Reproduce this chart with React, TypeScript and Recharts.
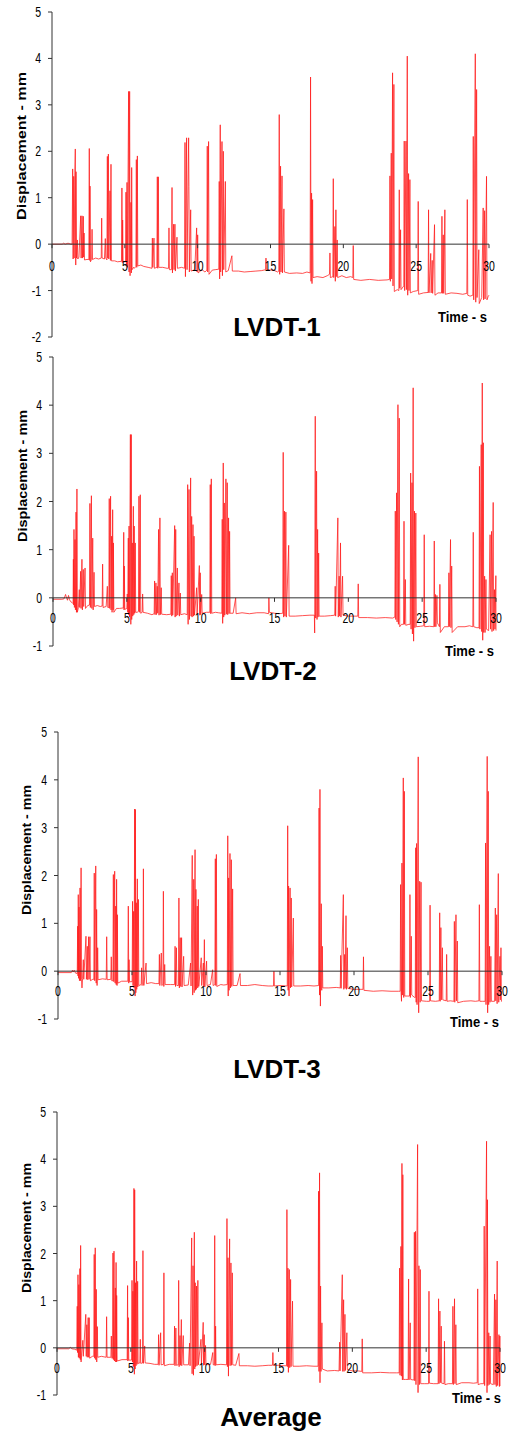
import { LineChart, Line, XAxis, YAxis, ReferenceLine, ReferenceDot } from 'recharts';

type Pt = [number, number];

const xTicks = [0, 5, 10, 15, 20, 25, 30];
const yTicksLvdt1 = [-2, -1, 0, 1, 2, 3, 4, 5];
const yTicks = [-1, 0, 1, 2, 3, 4, 5];
const titles = ['LVDT-1', 'LVDT-2', 'LVDT-3', 'Average'];
const yTitle = 'Displacement - mm';
const xTitle = 'Time - s';

// time (s), displacement (mm)
const lvdt1: Pt[] = [
  [0, 0], [0.7, 0.0], [0.8, 0.02], [0.9, 0.0], [1.1, 0.02], [1.3, 0.0], [1.38, 0.0],
  [1.42, 1.62], [1.45, -0.32], [1.49, 1.46], [1.52, -0.3], [1.57, 1.55], [1.6, 2.05], [1.63, -0.45], [1.65, 1.56], [1.68, -0.3],
  [1.74, 0.09], [1.77, -0.32], [1.85, -0.28], [1.97, 0.61], [2.0, -0.3], [2.06, 0.61], [2.09, -0.3], [2.15, 0.6], [2.17, -0.28],
  [2.2, 0.24], [2.23, -0.34], [2.4, -0.33], [2.53, -0.33], [2.56, 2.06], [2.59, -0.35], [2.61, 1.25], [2.64, -0.38], [2.72, -0.33],
  [2.75, 0.32], [2.78, -0.33], [3.0, -0.3], [3.2, -0.32], [3.38, -0.3], [3.41, 0.56], [3.44, -0.3], [3.6, -0.32], [3.66, 0.12],
  [3.69, -0.3], [3.77, -0.34], [3.8, 1.89], [3.83, -0.3], [3.87, 1.94], [3.9, -0.32], [3.98, 1.15], [4.01, -0.35], [4.05, 1.72],
  [4.08, -0.36], [4.3, -0.36], [4.5, -0.38], [4.77, -0.37], [4.8, 1.21], [4.83, -0.4], [4.85, 0.52], [4.88, -0.38], [5.05, -0.38],
  [5.08, 1.12], [5.11, -0.45], [5.15, 1.33], [5.18, -0.5], [5.26, 3.29], [5.29, -0.6], [5.33, 3.29], [5.36, -0.68], [5.42, 0.9],
  [5.45, -0.62], [5.47, 1.65], [5.5, -0.55], [5.6, -0.5], [5.65, -0.52], [5.76, -0.48], [5.79, 1.82], [5.82, -0.5], [5.86, 1.9],
  [5.89, -0.47], [6.1, -0.45], [6.3, -0.48], [6.6, -0.5], [6.86, -0.52], [6.89, 0.13], [6.92, -0.5], [7.0, 0.13], [7.03, -0.52],
  [7.2, -0.5], [7.23, 1.45], [7.26, -0.52], [7.3, 1.45], [7.33, -0.5], [7.6, -0.5], [7.9, -0.52], [8.0, -0.52], [8.03, 0.35],
  [8.06, -0.55], [8.2, -0.55], [8.24, 1.22], [8.27, -0.62], [8.35, 0.43], [8.38, -0.55], [8.44, 0.43], [8.47, -0.58], [8.58, 0.15],
  [8.61, -0.52], [8.9, -0.5], [9.1, -0.52], [9.13, 2.19], [9.16, -0.7], [9.24, 2.29], [9.27, -0.55], [9.38, 2.29], [9.4, 1.24],
  [9.43, -0.6], [9.52, 0.74], [9.55, -0.58], [9.8, -0.55], [9.93, 0.35], [9.96, -0.6], [10.0, 0.2], [10.03, -0.62], [10.3, -0.55],
  [10.5, -0.6], [10.63, -0.56], [10.66, 2.11], [10.69, -0.6], [10.75, 2.21], [10.78, -0.65], [11.0, -0.56], [11.2, -0.55],
  [11.45, -0.54], [11.48, 1.35], [11.51, -0.75], [11.55, 2.57], [11.58, -0.6], [11.67, 2.21], [11.7, -0.68], [11.76, 2.0],
  [11.79, -0.55], [11.9, 1.35], [11.93, -0.6], [12.1, -0.57], [12.35, -0.25], [12.38, -0.58], [12.8, -0.58], [13.2, -0.6],
  [13.6, -0.59], [14.0, -0.58], [14.4, -0.57], [14.66, -0.55], [14.69, -0.3], [14.72, -0.55], [15.2, -0.56], [15.5, -0.6],
  [15.57, -0.58], [15.6, 2.79], [15.63, -0.65], [15.69, 1.68], [15.72, -0.6], [15.79, 1.47], [15.82, -0.62], [15.92, 0.76],
  [15.95, -0.6], [16.3, -0.63], [16.8, -0.62], [17.2, -0.63], [17.5, -0.6], [17.72, -0.62], [17.75, 3.6], [17.78, -0.8],
  [17.82, 1.1], [17.85, -0.85], [17.89, 0.96], [17.92, -0.72], [18.2, -0.7], [18.6, -0.72], [18.9, -0.68], [19.05, -0.65],
  [19.08, -0.19], [19.11, -0.72], [19.28, -0.7], [19.31, 1.41], [19.34, -0.72], [19.42, 0.38], [19.45, -0.8], [19.49, 0.74],
  [19.52, -0.7], [19.58, 0.09], [19.61, -0.72], [19.9, -0.68], [20.2, -0.72], [20.5, -0.7], [20.65, -0.72], [20.68, -0.03],
  [20.71, -0.76], [21.2, -0.78], [21.8, -0.76], [22.4, -0.78], [23.0, -0.77], [23.17, -0.76], [23.2, 1.47], [23.23, -0.8],
  [23.29, 1.96], [23.32, -0.75], [23.38, 3.69], [23.41, -0.9], [23.47, 3.44], [23.5, -1.02], [23.7, -0.98], [23.81, -1.0],
  [23.84, 1.17], [23.87, -0.95], [23.93, 0.31], [23.96, -0.98], [24.15, -0.9], [24.18, 2.22], [24.21, -1.0], [24.3, 2.22],
  [24.33, -0.98], [24.39, 4.05], [24.42, -1.1], [24.48, 1.52], [24.51, -1.0], [24.57, 1.39], [24.6, -1.05], [24.8, -1.02],
  [25.11, -1.0], [25.14, 0.92], [25.17, -1.08], [25.5, -1.05], [25.82, -1.04], [25.85, 0.74], [25.88, -1.05], [26.0, -0.2],
  [26.03, -1.05], [26.1, -0.35], [26.13, -1.06], [26.26, 0.42], [26.29, -1.1], [26.5, -1.05], [26.74, -1.05], [26.77, 0.6],
  [26.8, -1.06], [26.86, 0.2], [26.89, -1.06], [26.97, 0.74], [27.0, -1.08], [27.4, -1.05], [27.8, -1.06], [28.2, -1.08],
  [28.48, -1.06], [28.51, 0.96], [28.54, -1.1], [28.7, -1.12], [28.89, -1.1], [28.92, 2.32], [28.95, -1.2], [29.06, 4.1],
  [29.09, -1.25], [29.15, 3.33], [29.18, -1.15], [29.3, -0.12], [29.33, -1.28], [29.5, -1.15], [29.6, 0.78], [29.63, -1.2],
  [29.7, 0.72], [29.73, -1.18], [29.83, 1.46], [29.86, -1.2], [29.95, -1.12], [30.0, -1.1],
];

const lvdt2: Pt[] = [
  [0, -0.03], [0.6, -0.03], [0.75, -0.02], [0.85, 0.07], [0.9, 0.02], [0.98, -0.05], [1.05, 0.05], [1.12, -0.04], [1.2, -0.08],
  [1.3, -0.1], [1.36, -0.12], [1.38, 0.8], [1.4, -0.15], [1.42, 1.42], [1.45, -0.2], [1.49, 1.21], [1.52, -0.25], [1.56, 1.78],
  [1.59, -0.3], [1.62, 2.26], [1.65, -0.3], [1.72, -0.2], [1.78, 0.17], [1.81, -0.2], [1.87, 0.55], [1.9, -0.22], [1.96, 0.8],
  [1.99, -0.25], [2.05, 0.59], [2.08, -0.18], [2.17, 0.62], [2.2, -0.22], [2.35, -0.16], [2.47, -0.15], [2.5, 1.96], [2.53, -0.2],
  [2.6, 2.12], [2.63, -0.22], [2.69, 1.24], [2.72, -0.25], [2.78, 0.53], [2.81, -0.18], [3.0, -0.16], [3.2, -0.18], [3.33, -0.17],
  [3.36, 0.7], [3.39, -0.2], [3.6, -0.18], [3.68, 0.24], [3.71, -0.2], [3.78, -0.2], [3.81, 2.06], [3.84, -0.22], [3.9, 2.11],
  [3.93, -0.25], [3.97, 1.28], [4.0, -0.3], [4.04, 1.83], [4.07, -0.25], [4.09, 1.14], [4.12, -0.3], [4.3, -0.22], [4.5, -0.22],
  [4.76, -0.21], [4.79, 1.36], [4.81, -0.25], [4.83, 0.66], [4.86, -0.24], [5.0, -0.22], [5.03, 0.08], [5.06, -0.3], [5.1, 1.24],
  [5.12, -0.35], [5.15, 1.49], [5.18, -0.4], [5.24, 3.39], [5.27, -0.55], [5.3, 3.39], [5.33, -0.45], [5.37, 1.14], [5.4, -0.38],
  [5.44, 1.9], [5.47, -0.35], [5.5, 1.49], [5.53, -0.32], [5.57, 1.14], [5.6, -0.3], [5.7, -0.3], [5.79, -0.28], [5.82, 2.11],
  [5.85, -0.3], [5.91, 2.14], [5.94, -0.32], [6.04, -0.3], [6.07, 0.08], [6.1, -0.3], [6.4, -0.32], [6.7, -0.35], [6.85, -0.33],
  [6.88, 0.35], [6.91, -0.35], [6.97, 0.31], [7.0, -0.35], [7.06, 0.24], [7.09, -0.32], [7.15, 1.42], [7.18, -0.36], [7.24, 1.66],
  [7.27, -0.35], [7.33, 0.21], [7.36, -0.34], [7.7, -0.35], [7.98, -0.34], [8.01, 0.46], [8.04, -0.38], [8.08, 0.52], [8.11, -0.36],
  [8.24, 1.5], [8.27, -0.4], [8.31, 1.42], [8.34, -0.38], [8.42, 0.62], [8.45, -0.36], [8.53, 0.31], [8.56, -0.38], [8.62, 0.1],
  [8.65, -0.35], [8.9, -0.33], [9.09, -0.35], [9.12, 2.35], [9.15, -0.55], [9.21, 2.25], [9.24, -0.45], [9.32, 2.49], [9.35, -0.38],
  [9.39, 1.69], [9.42, -0.4], [9.48, 1.52], [9.51, -0.38], [9.55, 1.28], [9.58, -0.36], [9.73, 0.21], [9.76, -0.34], [9.91, 0.67],
  [9.94, -0.36], [9.97, 0.52], [10.0, -0.35], [10.07, 0.07], [10.1, -0.32], [10.4, -0.3], [10.62, -0.3], [10.65, 2.35], [10.68, -0.33],
  [10.72, 2.47], [10.75, -0.32], [11.0, -0.3], [11.2, -0.31], [11.43, -0.32], [11.46, 1.63], [11.49, -0.53], [11.53, 2.8],
  [11.56, -0.4], [11.6, 1.97], [11.63, -0.36], [11.71, 2.47], [11.74, -0.34], [11.8, 2.39], [11.83, -0.35], [11.89, 1.66],
  [11.92, -0.33], [11.96, 1.38], [11.99, -0.32], [12.2, -0.32], [12.37, 0.0], [12.4, -0.33], [12.8, -0.31], [13.3, -0.33],
  [13.8, -0.31], [14.3, -0.31], [14.6, -0.33], [14.62, 0.0], [14.65, -0.3], [15.0, -0.32], [15.3, -0.33], [15.56, -0.32],
  [15.59, 3.02], [15.62, -0.4], [15.68, 1.8], [15.71, -0.38], [15.77, 1.78], [15.8, -0.4], [15.96, 1.09], [15.99, -0.38],
  [16.4, -0.38], [16.9, -0.37], [17.4, -0.36], [17.7, -0.36], [17.72, -0.73], [17.76, 3.77], [17.79, -0.42], [17.85, 2.63],
  [17.88, -0.45], [17.92, 1.42], [17.95, -0.4], [17.99, 0.93], [18.02, -0.38], [18.4, -0.38], [18.8, -0.37], [19.08, -0.36],
  [19.11, 0.24], [19.14, -0.38], [19.29, 1.66], [19.32, -0.4], [19.38, 0.45], [19.41, -0.38], [19.47, 1.14], [19.5, -0.4],
  [19.61, 0.45], [19.64, -0.36], [20.0, -0.38], [20.4, -0.38], [20.64, -0.38], [20.67, 0.29], [20.7, -0.41], [21.3, -0.41],
  [21.9, -0.42], [22.5, -0.41], [23.0, -0.42], [23.15, -0.4], [23.18, 1.8], [23.21, -0.45], [23.27, 2.18], [23.3, -0.5],
  [23.36, 4.01], [23.39, -0.55], [23.45, 3.73], [23.48, -0.6], [23.6, -0.55], [23.74, -0.55], [23.77, 1.59], [23.8, -0.55],
  [23.86, 0.38], [23.89, -0.57], [24.1, -0.55], [24.19, -0.55], [24.22, 2.59], [24.25, -0.65], [24.31, 2.39], [24.34, -0.75],
  [24.39, 4.36], [24.42, -0.9], [24.48, 1.8], [24.51, -0.62], [24.57, 1.76], [24.6, -0.6], [24.9, -0.59], [25.11, -0.58],
  [25.14, 1.31], [25.17, -0.6], [25.5, -0.59], [25.79, -0.6], [25.82, 1.18], [25.85, -0.6], [25.9, 0.07], [25.93, -0.6],
  [26.0, 0.05], [26.03, -0.52], [26.17, -0.6], [26.2, 0.28], [26.23, -0.72], [26.5, -0.6], [26.78, -0.6], [26.81, 0.52],
  [26.84, -0.6], [26.92, 1.21], [26.95, -0.62], [27.0, 0.66], [27.03, -0.72], [27.4, -0.6], [27.9, -0.6], [28.2, -0.58],
  [28.43, -0.6], [28.46, 1.36], [28.49, -0.6], [28.7, -0.62], [28.85, -0.62], [28.88, 2.73], [28.91, -0.65], [29.0, 3.18],
  [29.03, -0.7], [29.07, 4.46], [29.1, -0.88], [29.14, 3.22], [29.17, -0.72], [29.23, 0.45], [29.26, -0.72], [29.32, 0.38],
  [29.35, -0.65], [29.5, -0.68], [29.6, 1.31], [29.63, -0.65], [29.7, 1.38], [29.73, -0.7], [29.81, 1.98], [29.84, -0.68],
  [29.9, 0.17], [29.93, -0.65], [29.99, 0.46], [30.0, -0.68],
];

const lvdt3: Pt[] = [
  [0, -0.03], [0.9, -0.03], [0.98, 0.02], [1.02, -0.02], [1.1, 0.02], [1.18, -0.04], [1.3, -0.05], [1.33, 0.94], [1.35, -0.1],
  [1.37, 1.6], [1.39, -0.15], [1.42, 1.34], [1.45, -0.2], [1.49, 1.74], [1.52, -0.2], [1.56, 2.16], [1.59, -0.17], [1.62, -0.35],
  [1.66, -0.15], [1.71, 0.24], [1.74, -0.17], [1.89, 0.73], [1.92, -0.17], [1.98, 0.52], [2.01, -0.18], [2.07, 0.72], [2.1, -0.17],
  [2.16, 0.72], [2.19, -0.2], [2.35, -0.17], [2.42, -0.17], [2.45, 2.05], [2.48, -0.2], [2.55, 2.2], [2.58, -0.25], [2.61, 1.29],
  [2.64, -0.3], [2.68, 0.49], [2.71, -0.18], [3.0, -0.16], [3.26, -0.17], [3.29, 0.72], [3.32, -0.18], [3.57, -0.17], [3.6, 0.3],
  [3.63, -0.2], [3.71, -0.2], [3.74, 2.02], [3.77, -0.22], [3.83, 2.09], [3.86, -0.25], [3.9, 1.36], [3.93, -0.28], [3.96, 1.92],
  [3.99, -0.3], [4.01, 1.18], [4.04, -0.25], [4.3, -0.21], [4.72, -0.21], [4.75, 1.36], [4.78, -0.25], [4.8, 0.24], [4.83, -0.22],
  [5.01, -0.22], [5.04, 1.46], [5.07, -0.3], [5.11, 1.25], [5.14, -0.35], [5.18, 3.39], [5.21, -0.52], [5.23, 3.38], [5.26, -0.45],
  [5.29, 1.43], [5.32, -0.38], [5.36, 1.93], [5.39, -0.33], [5.43, 1.5], [5.46, -0.3], [5.62, -0.28], [5.65, 0.07], [5.68, -0.3],
  [5.74, -0.28], [5.77, 2.14], [5.8, -0.3], [5.95, 0.17], [5.98, -0.26], [6.3, -0.24], [6.6, -0.26], [6.82, -0.26], [6.85, 0.35],
  [6.88, -0.3], [6.98, 0.38], [7.01, -0.3], [7.09, -0.28], [7.12, 1.67], [7.15, -0.32], [7.21, 0.14], [7.24, -0.28], [7.6, -0.28],
  [7.88, -0.28], [7.91, 0.52], [7.94, -0.32], [8.0, 0.49], [8.03, -0.3], [8.14, -0.3], [8.17, 1.53], [8.2, -0.35], [8.26, 0.7],
  [8.29, -0.32], [8.35, 0.7], [8.38, -0.33], [8.49, 0.31], [8.52, -0.3], [8.8, -0.29], [8.96, 0.17], [8.99, -0.31], [9.07, 2.42],
  [9.1, -0.5], [9.17, 1.92], [9.2, -0.45], [9.26, 2.54], [9.29, -0.4], [9.32, 1.71], [9.35, -0.38], [9.41, 1.36], [9.44, -0.35],
  [9.48, 1.5], [9.51, -0.32], [9.68, 0.28], [9.71, -0.3], [9.82, 0.17], [9.85, -0.32], [9.89, 0.66], [9.92, -0.33], [10.04, 0.21],
  [10.07, -0.3], [10.3, -0.28], [10.45, 0.03], [10.48, -0.3], [10.6, -0.28], [10.63, 2.35], [10.66, -0.3], [10.7, 2.44],
  [10.73, -0.32], [11.0, -0.28], [11.2, -0.29], [11.44, -0.28], [11.47, 2.83], [11.5, -0.52], [11.53, 1.95], [11.56, -0.4],
  [11.62, 2.46], [11.65, -0.35], [11.71, 2.33], [11.74, -0.32], [11.8, 1.72], [11.83, -0.3], [12.1, -0.3], [12.3, -0.05],
  [12.33, -0.3], [12.8, -0.3], [13.3, -0.28], [13.8, -0.3], [14.2, -0.31], [14.56, -0.31], [14.59, 0.0], [14.62, -0.31],
  [15.0, -0.3], [15.49, -0.31], [15.52, 3.04], [15.55, -0.4], [15.58, 1.78], [15.61, -0.52], [15.68, 1.74], [15.71, -0.35],
  [15.76, 1.53], [15.79, -0.33], [15.9, 1.11], [15.93, -0.31], [16.4, -0.31], [16.9, -0.3], [17.3, -0.31], [17.61, -0.3],
  [17.64, 3.41], [17.67, -0.5], [17.7, 3.8], [17.73, -0.73], [17.79, 1.41], [17.82, -0.4], [17.86, 0.52], [17.89, -0.35],
  [18.3, -0.35], [18.8, -0.34], [19.07, -0.35], [19.1, 0.33], [19.13, -0.36], [19.28, 1.6], [19.31, -0.38], [19.37, 0.35],
  [19.4, -0.36], [19.46, 1.16], [19.49, -0.38], [19.55, 0.49], [19.58, -0.36], [20.0, -0.38], [20.4, -0.38], [20.61, -0.38],
  [20.64, 0.3], [20.67, -0.4], [21.3, -0.42], [21.9, -0.41], [22.5, -0.42], [23.0, -0.42], [23.12, -0.42], [23.15, 1.81],
  [23.18, -0.45], [23.21, -0.63], [23.24, 2.26], [23.27, -0.5], [23.33, 4.04], [23.36, -0.55], [23.4, 3.76], [23.43, -0.52],
  [23.6, -0.52], [23.75, -0.52], [23.78, 1.6], [23.81, -0.55], [23.87, 0.73], [23.9, -0.5], [24.1, -0.55], [24.14, -0.55],
  [24.17, 2.58], [24.2, -0.65], [24.23, 2.67], [24.26, -0.7], [24.34, 4.48], [24.37, -0.87], [24.44, 1.88], [24.47, -0.65],
  [24.53, 1.86], [24.56, -0.62], [24.9, -0.63], [25.11, -0.63], [25.14, 1.38], [25.17, -0.62], [25.5, -0.63], [25.76, -0.62],
  [25.79, 1.22], [25.82, -0.63], [25.87, 0.91], [25.9, -0.6], [25.97, 0.49], [26.0, -0.6], [26.23, -0.62], [26.26, 0.35],
  [26.29, -0.63], [26.5, -0.62], [26.75, -0.63], [26.78, 1.04], [26.81, -0.65], [26.89, 1.18], [26.92, -0.62], [26.98, 0.63],
  [27.01, -0.66], [27.4, -0.63], [27.9, -0.62], [28.2, -0.63], [28.44, -0.62], [28.47, 1.39], [28.5, -0.63], [28.7, -0.63],
  [28.86, -0.63], [28.89, 2.68], [28.92, -0.7], [29.0, 4.49], [29.03, -0.87], [29.07, 3.76], [29.1, -0.7], [29.16, 0.52],
  [29.19, -0.65], [29.25, 0.31], [29.28, -0.63], [29.5, -0.63], [29.55, 1.32], [29.58, -0.62], [29.64, 1.18], [29.67, -0.68],
  [29.75, 2.04], [29.78, -0.65], [29.86, 0.31], [29.89, -0.6], [29.93, 0.49], [29.96, -0.63], [30.0, -0.62],
];

const average: Pt[] = [
  [0, -0.02], [0.8, -0.02], [0.9, 0.01], [1.0, -0.02], [1.2, -0.03], [1.34, -0.05], [1.37, 0.88], [1.39, -0.1], [1.42, 1.55],
  [1.45, -0.2], [1.48, 1.34], [1.51, -0.22], [1.55, 1.68], [1.58, -0.25], [1.6, 2.17], [1.63, -0.3], [1.66, -0.17], [1.75, 0.16],
  [1.78, -0.18], [1.95, 0.71], [1.98, -0.18], [2.02, 0.49], [2.05, -0.2], [2.11, 0.64], [2.14, -0.2], [2.18, 0.64], [2.21, -0.22],
  [2.4, -0.18], [2.49, -0.18], [2.52, 1.98], [2.55, -0.22], [2.59, 2.12], [2.62, -0.25], [2.66, 1.24], [2.69, -0.3], [2.73, 0.45],
  [2.76, -0.2], [3.0, -0.18], [3.33, -0.2], [3.36, 0.66], [3.39, -0.2], [3.65, -0.2], [3.68, 0.25], [3.71, -0.22], [3.76, -0.22],
  [3.79, 2.01], [3.82, -0.25], [3.86, 2.05], [3.89, -0.28], [3.95, 1.27], [3.98, -0.3], [4.0, 1.81], [4.02, -0.3], [4.04, 1.11],
  [4.07, -0.28], [4.4, -0.25], [4.75, -0.25], [4.78, 1.32], [4.8, -0.28], [4.83, 0.64], [4.86, -0.26], [5.05, -0.26], [5.08, 1.43],
  [5.11, -0.3], [5.14, 1.2], [5.17, -0.4], [5.21, 3.38], [5.24, -0.56], [5.26, 3.35], [5.29, -0.45], [5.32, 1.38], [5.35, -0.38],
  [5.39, 1.84], [5.42, -0.35], [5.46, 1.41], [5.49, -0.33], [5.61, -0.32], [5.64, 0.18], [5.67, -0.33], [5.79, -0.32], [5.82, 2.06],
  [5.85, -0.33], [5.94, 0.04], [5.97, -0.32], [6.3, -0.33], [6.6, -0.35], [6.85, -0.35], [6.88, 0.28], [6.91, -0.37], [7.02, 0.32],
  [7.05, -0.36], [7.21, -0.35], [7.24, 1.59], [7.27, -0.38], [7.6, -0.35], [7.93, -0.35], [7.96, 0.46], [7.99, -0.38], [8.05, 0.42],
  [8.08, -0.37], [8.21, -0.36], [8.24, 1.43], [8.27, -0.4], [8.33, 0.26], [8.36, -0.37], [8.42, 0.6], [8.45, -0.38], [8.55, 0.26],
  [8.58, -0.36], [8.9, -0.36], [8.98, 0.1], [9.01, -0.38], [9.12, 2.33], [9.15, -0.55], [9.21, 1.74], [9.24, -0.58], [9.3, 2.45],
  [9.33, -0.45], [9.36, 1.38], [9.39, -0.4], [9.45, 1.31], [9.48, -0.38], [9.54, 1.43], [9.57, -0.36], [9.75, 0.18], [9.78, -0.36],
  [9.9, 0.54], [9.93, -0.37], [9.97, 0.28], [10.0, -0.36], [10.06, 0.05], [10.09, -0.36], [10.4, -0.35], [10.55, -0.1],
  [10.58, -0.36], [10.65, -0.36], [10.68, 2.38], [10.71, -0.38], [10.74, 0.46], [10.77, -0.36], [11.1, -0.35], [11.48, -0.36],
  [11.51, 2.74], [11.54, -0.4], [11.58, 1.91], [11.61, -0.6], [11.69, 2.31], [11.72, -0.38], [11.78, 1.8], [11.81, -0.37],
  [11.87, 1.59], [11.9, -0.36], [12.1, -0.37], [12.32, -0.12], [12.35, -0.38], [12.9, -0.38], [13.4, -0.39], [13.9, -0.38],
  [14.3, -0.37], [14.59, -0.37], [14.62, -0.1], [14.65, -0.37], [15.0, -0.37], [15.3, -0.38], [15.54, -0.38], [15.57, 2.93],
  [15.6, -0.4], [15.64, 1.69], [15.67, -0.52], [15.73, 1.66], [15.76, -0.42], [15.82, 1.45], [15.85, -0.4], [15.95, 0.99],
  [15.98, -0.39], [16.4, -0.39], [16.9, -0.38], [17.4, -0.39], [17.68, -0.39], [17.71, 3.32], [17.74, -0.5], [17.78, 3.71],
  [17.81, -0.74], [17.85, 1.31], [17.88, -0.5], [17.94, 0.53], [17.97, -0.45], [18.3, -0.49], [18.8, -0.48], [19.1, -0.49],
  [19.14, 0.12], [19.17, -0.49], [19.32, 1.55], [19.35, -0.5], [19.41, 1.02], [19.44, -0.5], [19.5, 0.71], [19.53, -0.48],
  [19.63, 0.32], [19.66, -0.46], [20.0, -0.49], [20.4, -0.49], [20.64, -0.5], [20.67, 0.19], [20.7, -0.53], [21.3, -0.53],
  [21.9, -0.52], [22.5, -0.53], [23.0, -0.53], [23.17, -0.53], [23.2, 1.69], [23.23, -0.58], [23.29, 2.15], [23.32, -0.6],
  [23.36, 3.91], [23.39, -0.68], [23.42, 3.67], [23.45, -0.67], [23.6, -0.67], [23.78, -0.67], [23.81, 1.46], [23.84, -0.68],
  [23.92, 0.53], [23.95, -0.67], [24.1, -0.68], [24.17, -0.68], [24.2, 2.45], [24.23, -0.7], [24.28, 2.47], [24.31, -0.78],
  [24.42, 4.31], [24.45, -0.95], [24.51, 1.74], [24.54, -0.78], [24.6, 1.66], [24.63, -0.76], [24.9, -0.76], [25.16, -0.76],
  [25.19, 1.2], [25.22, -0.75], [25.5, -0.76], [25.81, -0.76], [25.84, 1.04], [25.87, -0.76], [25.93, 0.78], [25.96, -0.74],
  [26.02, 0.46], [26.05, -0.75], [26.21, -0.76], [26.24, 0.14], [26.27, -0.78], [26.5, -0.76], [26.78, -0.76], [26.81, 0.88],
  [26.84, -0.78], [26.92, 1.04], [26.95, -0.76], [27.01, 0.49], [27.04, -0.78], [27.4, -0.74], [27.9, -0.74], [28.2, -0.75],
  [28.46, -0.74], [28.49, 1.25], [28.52, -0.78], [28.7, -0.76], [28.9, -0.76], [28.93, 2.58], [28.96, -0.8], [29.09, 4.38],
  [29.12, -0.95], [29.15, 3.14], [29.18, -0.8], [29.24, 0.32], [29.27, -0.78], [29.33, 0.25], [29.36, -0.76], [29.55, -0.78],
  [29.63, 1.14], [29.66, -0.78], [29.72, 1.02], [29.75, -0.82], [29.81, 1.84], [29.84, -0.8], [29.93, 0.28], [29.96, -0.82],
  [29.99, 0.25], [30.0, -0.81],
];

const FONT = '"Liberation Sans", Arial, sans-serif';
const INK = '#000';
const AXIS = '#333';

// plot box and text placement for each panel (page pixels)
const panels = [
  { series: lvdt1, ticks: yTicksLvdt1, top: 12, bottom: 337, left: 52, right: 489, drop: 22,
    yLab: { x: 22, y: 146, len: 148 }, time: { x: 438, y: 322 }, title: { x: 277, y: 336 } },
  { series: lvdt2, ticks: yTicks, top: 357, bottom: 646, left: 53, right: 496, drop: 20,
    yLab: { x: 23, y: 476, len: 132 }, time: { x: 445, y: 656 }, title: { x: 273, y: 680 } },
  { series: lvdt3, ticks: yTicks, top: 732, bottom: 1019, left: 58, right: 502, drop: 20,
    yLab: { x: 27, y: 850, len: 130 }, time: { x: 450, y: 1027 }, title: { x: 277, y: 1078 } },
  { series: average, ticks: yTicks, top: 1112, bottom: 1395, left: 57, right: 500, drop: 20,
    yLab: { x: 26.5, y: 1228, len: 130 }, time: { x: 452, y: 1403 }, title: { x: 271, y: 1426 } },
];

function YTick({ x, y, payload }: any) {
  return (
    <g transform={`translate(${x},${y})`}>
      <text transform="scale(0.75,1)" textAnchor="end" dy="0.36em" fontSize={14} fill={INK} fontFamily={FONT}>
        {payload.value}
      </text>
    </g>
  );
}

function XTick({ cx, cy, label, drop }: any) {
  return (
    <g>
      <line x1={cx} y1={cy} x2={cx} y2={cy + 4} stroke={AXIS} />
      <g transform={`translate(${cx},${cy + drop})`}>
        <text transform="scale(0.75,1)" textAnchor="middle" dy="0.36em" fontSize={14} fill={INK} fontFamily={FONT}>
          {label}
        </text>
      </g>
    </g>
  );
}

function Panel({ p }: { p: (typeof panels)[number] }) {
  const data = p.series.map(([t, v]) => ({ t, v }));
  const pad = 10;
  return (
    <div style={{ position: 'absolute', left: 0, top: p.top - pad }}>
      <LineChart
        width={518}
        height={p.bottom - p.top + pad * 2}
        data={data}
        margin={{ top: pad, bottom: pad, left: p.left - 40, right: 518 - p.right }}
      >
        <XAxis type="number" dataKey="t" domain={[0, 30]} hide />
        <YAxis
          width={40}
          type="number"
          domain={[p.ticks[0], 5]}
          ticks={p.ticks}
          interval={0}
          stroke={AXIS}
          tickSize={4}
          tickMargin={7}
          tick={(props: any) => <YTick {...props} />}
        />
        <Line
          type="linear"
          dataKey="v"
          stroke="#ff1a1a"
          strokeWidth={0.9}
          strokeOpacity={0.85}
          dot={false}
          activeDot={false}
          isAnimationActive={false}
        />
        <ReferenceLine y={0} stroke={AXIS} strokeWidth={1} />
        {xTicks.map((t) => (
          <ReferenceDot
            key={t}
            x={t}
            y={0}
            r={1}
            ifOverflow="visible"
            shape={(props: any) => <XTick {...props} label={t} drop={p.drop} />}
          />
        ))}
      </LineChart>
    </div>
  );
}

export default function App() {
  return (
    <div style={{ position: 'absolute', left: 0, top: 0, width: 518, height: 1434, background: '#fff', overflow: 'hidden' }}>
      {panels.map((p, i) => (
        <Panel key={titles[i]} p={p} />
      ))}
      <svg width={518} height={1434} style={{ position: 'absolute', left: 0, top: 0, pointerEvents: 'none' }}>
        {panels.map((p, i) => (
          <g key={titles[i]} fontFamily={FONT} fill={INK}>
            <text
              transform={`translate(${p.yLab.x},${p.yLab.y}) rotate(-90)`}
              textAnchor="middle"
              dy="0.35em"
              fontSize={12}
              fontWeight="bold"
              textLength={p.yLab.len}
              lengthAdjust="spacingAndGlyphs"
            >
              {yTitle}
            </text>
            <text x={p.time.x} y={p.time.y} fontSize={15} fontWeight="bold" textLength={49} lengthAdjust="spacingAndGlyphs">
              {xTitle}
            </text>
            <text x={p.title.x} y={p.title.y} textAnchor="middle" fontSize={26} fontWeight="bold" fill="#000">
              {titles[i]}
            </text>
          </g>
        ))}
      </svg>
    </div>
  );
}
